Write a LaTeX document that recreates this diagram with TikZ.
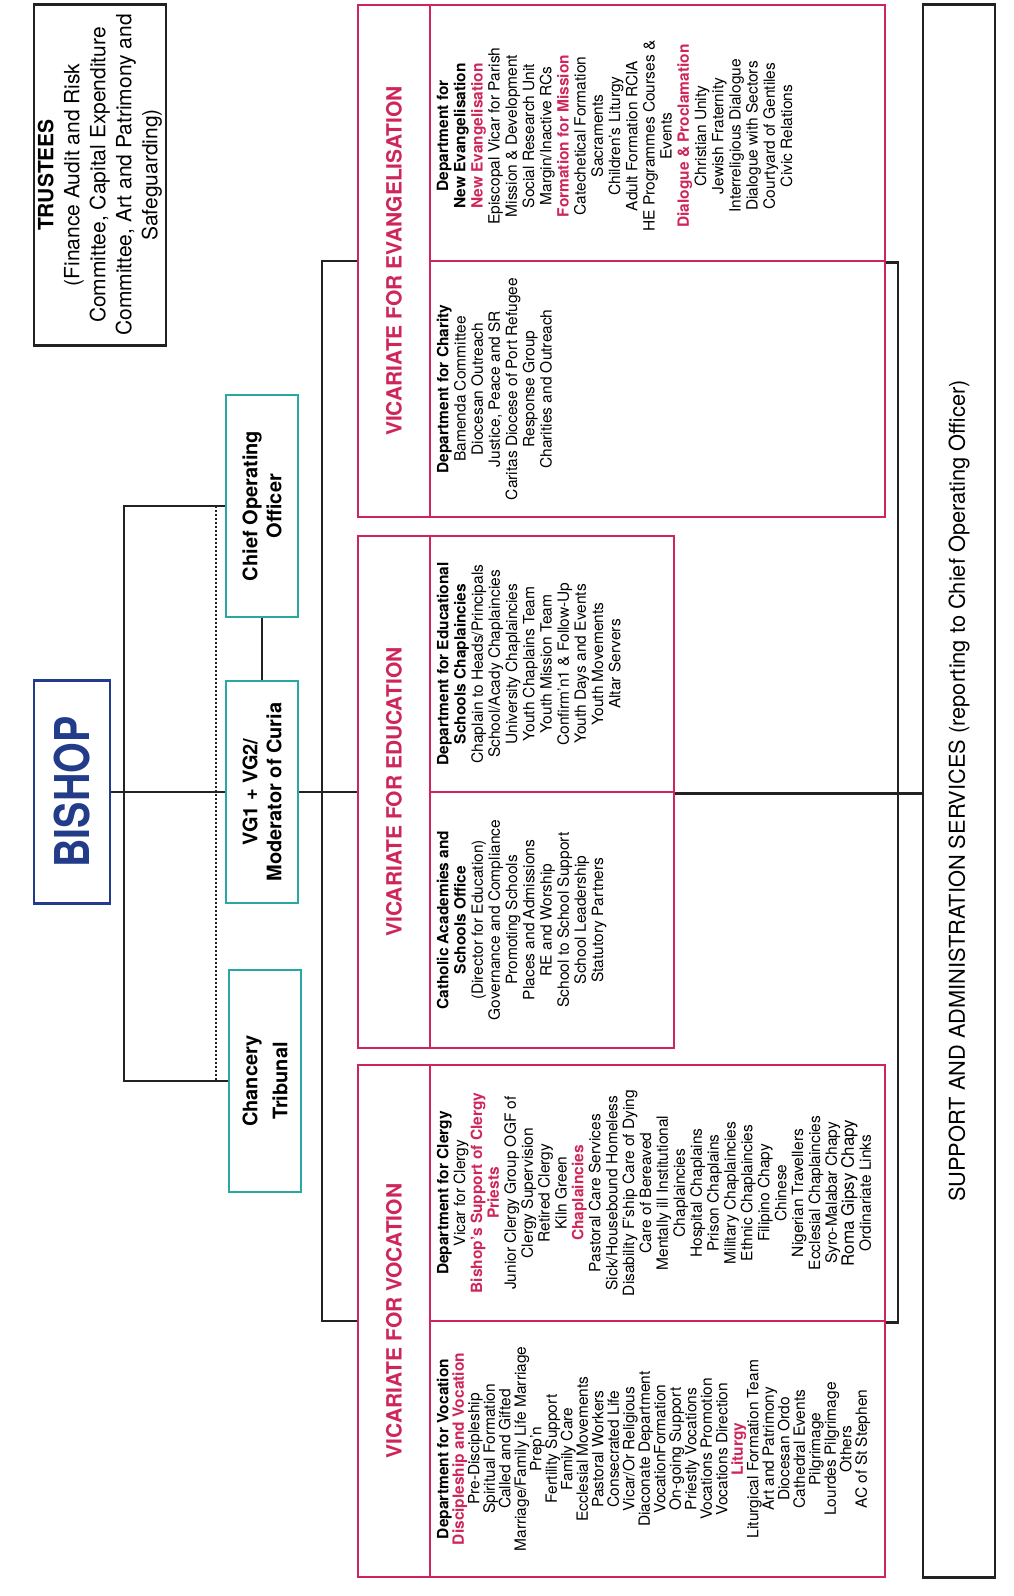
\documentclass[tikz,border=0pt]{standalone}
\usepackage{fontspec}
\setmainfont{TeX Gyre Heros}
\newfontfamily\bishopfont[FakeStretch=0.82]{TeX Gyre Heros}
\usepackage{tikz}
\usepackage{xcolor}
\definecolor{vicpink}{RGB}{206,38,90}
\definecolor{curiateal}{RGB}{40,168,160}
\definecolor{bishopblue}{RGB}{34,60,138}
\definecolor{linegray}{RGB}{34,34,34}
\tikzstyle{link} = [draw=linegray, line width=2.8pt]
\tikzstyle{rotbox} = [rectangle, draw, line width=2.8pt, rotate=90, align=center, inner sep=0pt]
\tikzstyle{bishopbox} = [rotbox, draw=bishopblue, text=bishopblue, minimum width=223pt, minimum height=76pt, font=\bishopfont\fontsize{48}{48}\selectfont\bfseries]
\tikzstyle{curiabox} = [rotbox, draw=curiateal, minimum width=222pt, minimum height=72pt, font=\fontsize{20}{24}\selectfont\bfseries]
\tikzstyle{vicstrip} = [rotbox, draw=vicpink, text=vicpink, minimum width=512pt, minimum height=72pt, font=\fontsize{21}{24}\selectfont\bfseries]
\tikzstyle{deptcell} = [rectangle, draw=vicpink, line width=2.8pt, minimum height=256pt, inner sep=0pt]
\tikzstyle{deptlist} = [rotate=90, anchor=north, align=center, inner sep=0pt, font=\fontsize{15.5}{17.2}\selectfont]
\newcommand{\vhead}[1]{\textcolor{vicpink}{\textbf{#1}}}

\begin{document}
\begin{tikzpicture}[x=1pt, y=-1pt]
  \useasboundingbox (0,0) rectangle (1014,1596);

  \node (trustees) [rotbox, draw=linegray, minimum width=341pt, minimum height=132pt, font=\fontsize{21}{26}\selectfont] at (100,175) {\textbf{TRUSTEES}\\(Finance Audit and Risk\\Committee, Capital Expenditure\\Committee, Art and Patrimony and\\Safeguarding)};

  \node (bishop) [bishopbox] at (72,792) {BISHOP};
  \node (vg) [curiabox] at (262,792) {VG1 + VG2/\\Moderator of Curia};
  \node (coo) [curiabox] at (262,506) {Chief Operating\\Officer};
  \node (chancery) [curiabox] at (265,1081) {Chancery\\[6pt]Tribunal};

  \node (support) [rotbox, draw=linegray, minimum width=1573pt, minimum height=72pt, font=\fontsize{21.8}{24}\selectfont] at (959,791) {SUPPORT AND ADMINISTRATION SERVICES (reporting to Chief Operating Officer)};

  % vicariates
  \node (evtitle) [vicstrip] at (394,261) {VICARIATE FOR EVANGELISATION};
  \node (evnew) [deptcell, minimum width=455pt] at (657.5,133) {};
  \node (evchar) [deptcell, minimum width=455pt] at (657.5,389) {};

  \node (edtitle) [vicstrip] at (394,792) {VICARIATE FOR EDUCATION};
  \node (edchap) [deptcell, minimum width=244pt] at (552,664) {};
  \node (edacad) [deptcell, minimum width=244pt] at (552,920) {};

  \node (votitle) [vicstrip] at (394,1321) {VICARIATE FOR VOCATION};
  \node (voclergy) [deptcell, minimum width=455pt] at (657.5,1193) {};
  \node (vovoc) [deptcell, minimum width=455pt] at (657.5,1449) {};

  \node (evnewlist) [deptlist] at ([xshift=8pt, yshift=-3pt]evnew.west) {\textbf{Department for}\\\textbf{New Evangelisation}\\\vhead{New Evangelisation}\\Episcopal Vicar for Parish\\Mission \& Development\\Social Research Unit\\Margin/Inactive RCs\\\vhead{Formation for Mission}\\Catechetical Formation\\Sacraments\\Children's Liturgy\\Adult Formation RCIA\\HE Programmes Courses \&\\Events\\\vhead{Dialogue \& Proclamation}\\Christian Unity\\Jewish Fraternity\\Interreligious Dialogue\\Dialogue with Sectors\\Courtyard of Gentiles\\Civic Relations};
  \node (evcharlist) [deptlist] at ([xshift=8pt]evchar.west) {\textbf{Department for Charity}\\Bamenda Committee\\Diocesan Outreach\\Justice, Peace and SR\\Caritas Diocese of Port Refugee\\Response Group\\Charities and Outreach};
  \node (edchaplist) [deptlist] at ([xshift=8pt]edchap.west) {\textbf{Department for Educational}\\\textbf{Schools Chaplaincies}\\Chaplain to Heads/Principals\\School/Acady Chaplaincies\\University Chaplaincies\\Youth Chaplains Team\\Youth Mission Team\\Confirm'n1 \& Follow-Up\\Youth Days and Events\\Youth Movements\\Altar Servers};
  \node (edacadlist) [deptlist] at ([xshift=8pt]edacad.west) {\textbf{Catholic Academies and}\\\textbf{Schools Office}\\(Director for Education)\\Governance and Compliance\\Promoting Schools\\Places and Admissions\\RE and Worship\\School to School Support\\School Leadership\\Statutory Partners};
  \node (voclergylist) [deptlist, font=\fontsize{15.5}{16.9}\selectfont] at ([xshift=8pt]voclergy.west) {\textbf{Department for Clergy}\\Vicar for Clergy\\\vhead{Bishop's Support of Clergy}\\\vhead{Priests}\\Junior Clergy Group OGF of\\Clergy Supervision\\Retired Clergy\\Kiln Green\\\vhead{Chaplaincies}\\Pastoral Care Services\\Sick/Housebound Homeless\\Disability F'ship Care of Dying\\Care of Bereaved\\Mentally ill Institutional\\Chaplaincies\\Hospital Chaplains\\Prison Chaplains\\Military Chaplaincies\\Ethnic Chaplaincies\\Filipino Chapy\\Chinese\\Nigerian Travellers\\Ecclesial Chaplaincies\\Syro-Malabar Chapy\\{\fontsize{17}{16.9}\selectfont Roma Gipsy Chapy}\\Ordinariate Links};
  \node (vovoclist) [deptlist, font=\fontsize{15.5}{15.5}\selectfont] at ([xshift=8pt]vovoc.west) {\textbf{Department for Vocation}\\\vhead{Discipleship and Vocation}\\Pre-Discipleship\\Spiritual Formation\\Called and Gifted\\Marriage/Family Life Marriage\\Prep'n\\Fertility Support\\Family Care\\Ecclesial Movements\\Pastoral Workers\\Consecrated Life\\Vicar/Or Religious\\Diaconate Department\\VocationFormation\\On-going Support\\Priestly Vocations\\Vocations Promotion\\Vocations Direction\\\vhead{Liturgy}\\Liturgical Formation Team\\Art and Patrimony\\Diocesan Ordo\\Cathedral Events\\Pilgrimage\\Lourdes Pilgrimage\\Others\\AC of St Stephen};

  \coordinate (bracket) at (124,792);
  \coordinate (spine) at (322,792);
  \coordinate (rspine) at (898,792);

  \draw [link] (bishop.south) -- (vg.north);
  \draw [link] (coo.north) -| (bracket) |- (chancery.north);
  \draw [dotted, line width=2pt, linegray] ([xshift=-9pt]coo.north) -- ([xshift=-9pt]coo.north |- chancery.north);
  \draw [link] (vg.east) -- (coo.west);
  \draw [link] (vg.south) -- (edtitle.north);
  \draw [link] (evtitle.north) -| (spine) |- (votitle.north);
  \draw [link] (evnew.south east) -| (rspine) |- (voclergy.south east);
  \draw [link] (edchap.south east) -- (edchap.south east -| support.north);
\end{tikzpicture}
\end{document}
